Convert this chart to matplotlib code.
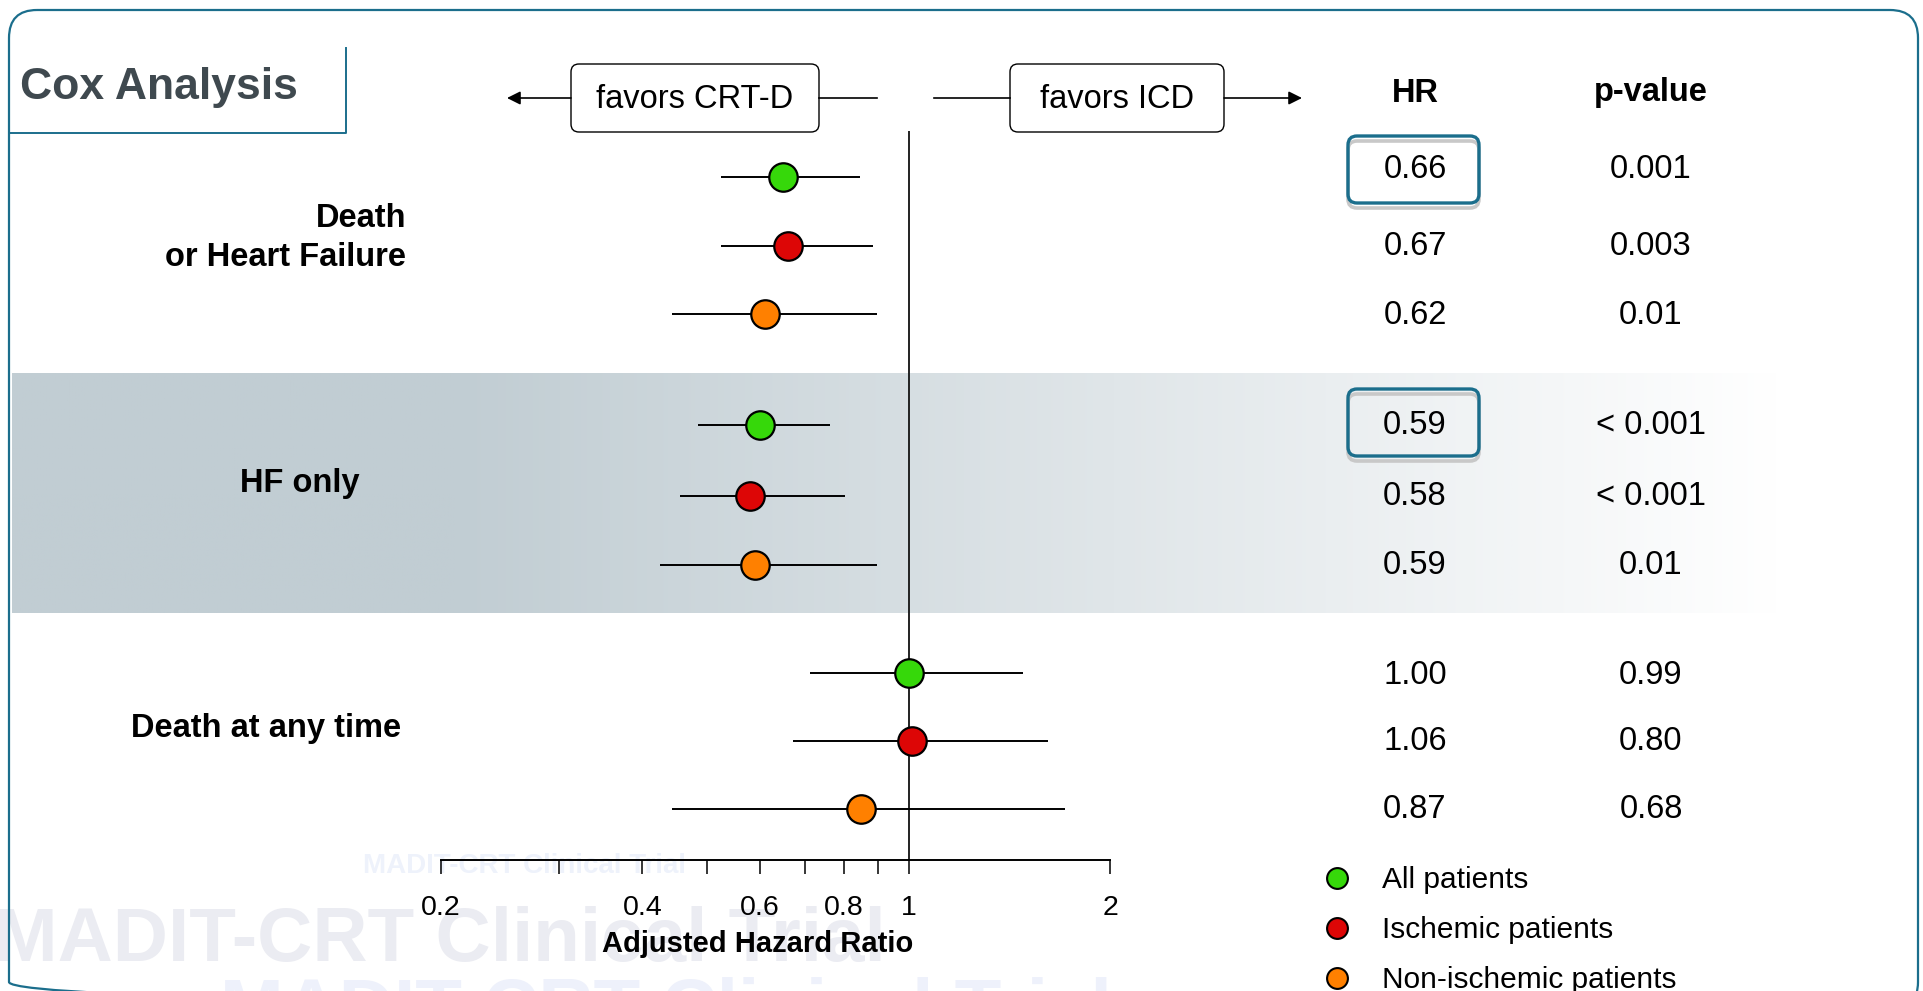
import numpy as np
import matplotlib
matplotlib.use("Agg")
import matplotlib.pyplot as plt
from matplotlib.patches import FancyBboxPatch
from matplotlib.lines import Line2D
from matplotlib.colors import LinearSegmentedColormap
from matplotlib.transforms import blended_transform_factory

plt.rcParams["font.family"] = ["Liberation Sans", "DejaVu Sans"]

# values
outcomes = ["Death\nor Heart Failure", "HF only", "Death at any time"]
groups = ["All patients", "Ischemic patients", "Non-ischemic patients"]
group_colors = ["#36d80a", "#dd0606", "#ff8000"]

hr_point = [0.65, 0.66, 0.61, 0.60, 0.58, 0.59, 1.00, 1.01, 0.85]
ci_low = [0.525, 0.524, 0.443, 0.485, 0.455, 0.425, 0.713, 0.671, 0.443]
ci_high = [0.845, 0.885, 0.896, 0.763, 0.802, 0.896, 1.483, 1.614, 1.713]
hr_text = ["0.66", "0.67", "0.62", "0.59", "0.58", "0.59", "1.00", "1.06", "0.87"]
p_text = ["0.001", "0.003", "0.01", "< 0.001", "< 0.001", "0.01", "0.99", "0.80", "0.68"]
highlight = [0, 3]

major_ticks = [0.2, 0.4, 0.6, 0.8, 1, 2]
major_labels = ["0.2", "0.4", "0.6", "0.8", "1", "2"]
minor_ticks = [0.3, 0.5, 0.7, 0.9]

# layout (figure pixels, y grows downward)
W, H = 1923, 991
row_y = [177, 246, 314, 425, 496, 565, 673, 741, 809]
text_shift = [-8, 0, 2, 0, 0, 1, 2, 1, 0]
label_pos = [(406, 238, "right"), (240, 483, "left"), (131, 728, "left")]
teal = "#1b6e8c"

fig = plt.figure(figsize=(W / 100, H / 100), dpi=100)

# background axes in pixel coordinates
bg = fig.add_axes([0, 0, 1, 1], zorder=0)
bg.set_xlim(0, W)
bg.set_ylim(H, 0)
bg.set_autoscale_on(False)
bg.axis("off")

# shaded band behind "HF only"
xs = np.linspace(12, 1780, 600)
t = np.clip((xs - 450) / (1780 - 450), 0, 1)
cmap = LinearSegmentedColormap.from_list("band", ["#c1cdd3", "#ffffff"])
bg.imshow(t[None, :], cmap=cmap, vmin=0, vmax=1, aspect="auto",
          extent=(12, 1780, 613, 373), zorder=0)

# watermarks
bg.text(-6, 961, "MADIT-CRT Clinical Trial", fontsize=55, fontweight="bold",
        color="#ebecf2", va="baseline", zorder=1)
bg.text(363, 873, "MADIT-CRT Clinical Trial", fontsize=20, fontweight="bold",
        color="#eef2fb", va="baseline", zorder=1)
bg.text(220, 977, "MADIT-CRT Clinical Trial", fontsize=55, fontweight="bold",
        color="#eef1fb", va="top", zorder=1)

# outer frame and title box
bg.add_patch(FancyBboxPatch((9, 10), 1909, 1000, boxstyle="round,pad=0,rounding_size=28",
                            fc="none", ec=teal, lw=1.6, zorder=3))
bg.plot([9, 346, 346], [133, 133, 48], color=teal, lw=1.4, zorder=3)
bg.text(20, 88, "Cox Analysis", fontsize=32, fontweight="bold", color="#3f494f",
        va="center", ha="left", zorder=3)

# favors boxes and arrows
for x0, w, txt in [(571, 248, "favors CRT-D"), (1010, 214, "favors ICD")]:
    bg.add_patch(FancyBboxPatch((x0, 64), w, 68, boxstyle="round,pad=0,rounding_size=8",
                                fc="white", ec="black", lw=1.0, zorder=3))
    bg.text(x0 + w / 2, 100, txt, fontsize=23.5, ha="center", va="center", zorder=4)
bg.plot([819, 877], [98, 98], color="black", lw=1.2, zorder=3)
bg.plot([934, 1010], [98, 98], color="black", lw=1.2, zorder=3)
arrow = dict(arrowstyle="-|>", color="black", lw=1.2, mutation_scale=20, shrinkA=0, shrinkB=0)
bg.annotate("", xy=(507, 98), xytext=(571, 98), arrowprops=arrow, zorder=3)
bg.annotate("", xy=(1302, 98), xytext=(1224, 98), arrowprops=arrow, zorder=3)

# table headers
bg.text(1415, 93, "HR", fontsize=23.5, fontweight="bold", ha="center", va="center", zorder=3)
bg.text(1651, 93, "p-value", fontsize=23.5, fontweight="bold", ha="center", va="center", zorder=3)

# highlight boxes around HR values
for i in highlight:
    yc = row_y[i] + text_shift[i] - (0 if i == 0 else 3)
    bg.add_patch(FancyBboxPatch((1348, yc - 33 + 5), 131, 67, boxstyle="round,pad=0,rounding_size=9",
                                fc="none", ec="#c8c8c8", lw=2.6, zorder=2))
    bg.add_patch(FancyBboxPatch((1348, yc - 33), 131, 67, boxstyle="round,pad=0,rounding_size=9",
                                fc="none", ec=teal, lw=2.4, zorder=3))

# forest plot axes
ax = fig.add_axes([441 / W, (H - 860) / H, 669 / W, 729 / H], zorder=1)
ax.patch.set_alpha(0)
ax.set_xscale("log")
ax.set_xlim(0.2, 2)
ax.set_ylim(860, 131)

for i in range(len(hr_point)):
    c = group_colors[i % 3]
    ax.errorbar(hr_point[i], row_y[i],
                xerr=[[hr_point[i] - ci_low[i]], [ci_high[i] - hr_point[i]]],
                fmt="o", ms=20.5, mfc=c, mec="black", mew=1.6,
                ecolor="black", elinewidth=1.4, capsize=0, zorder=3)

ax.axvline(1, color="#222222", lw=1.4, zorder=2)

for s in ["top", "right", "left"]:
    ax.spines[s].set_visible(False)
ax.spines["bottom"].set_linewidth(1.4)
ax.set_yticks([])
ax.set_xticks(major_ticks)
ax.set_xticklabels(major_labels)
ax.set_xticks(minor_ticks, minor=True)
ax.xaxis.set_minor_formatter(plt.NullFormatter())
ax.tick_params(axis="x", which="both", direction="out", length=10, width=1.1,
               pad=15.5, labelsize=20.5)
ax.set_xlabel("Adjusted Hazard Ratio", fontsize=21, fontweight="bold")
ax.xaxis.set_label_coords(0.474, -0.096)
ax.xaxis.label.set_va("top")

# outcome labels and table values, x in figure pixels, y in data rows
trans = blended_transform_factory(bg.transData, ax.transData)
for (x, y, ha), name in zip(label_pos, outcomes):
    ax.text(x, y, name, transform=trans, ha=ha, va="center", multialignment="right",
            fontsize=23.5, fontweight="bold", linespacing=1.37, clip_on=False)
for i in range(len(hr_text)):
    ty = row_y[i] + text_shift[i]
    ax.text(1415, ty, hr_text[i], transform=trans, ha="center", va="center",
            fontsize=23.5, clip_on=False)
    ax.text(1651, ty, p_text[i], transform=trans, ha="center", va="center",
            fontsize=23.5, clip_on=False)

handles = [Line2D([], [], marker="o", ls="none", ms=15, mfc=c, mec="black", mew=1.5)
           for c in group_colors]
ax.legend(handles, groups, loc="upper left", bbox_to_anchor=(1322, 866),
          bbox_transform=bg.transData, frameon=False, fontsize=21.5,
          handlelength=1.0, handletextpad=1.0, labelspacing=0.74,
          borderpad=0, borderaxespad=0)

fig.savefig("out.png", dpi=100)
